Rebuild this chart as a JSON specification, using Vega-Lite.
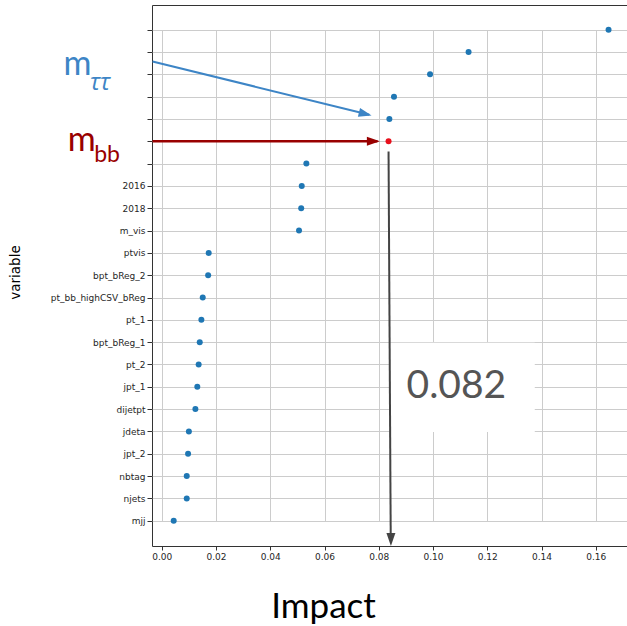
{
  "$schema": "https://vega.github.io/schema/vega-lite/v6.json",
  "width": 475,
  "height": 541,
  "autosize": {"type": "none"},
  "padding": {"left": 152, "top": 5, "right": 0, "bottom": 80},
  "background": "white",
  "config": {
    "view": {"stroke": "#333333", "strokeWidth": 1},
    "font": "DejaVu Sans"
  },
  "datasets": {
    "impacts": [
      {"variable": "hidden_1", "impact": 0.1647},
      {"variable": "hidden_2", "impact": 0.1131},
      {"variable": "hidden_3", "impact": 0.0989},
      {"variable": "hidden_4", "impact": 0.0856},
      {"variable": "hidden_5", "impact": 0.0839},
      {"variable": "hidden_6", "impact": 0.0836},
      {"variable": "hidden_7", "impact": 0.0533},
      {"variable": "2016", "impact": 0.0516},
      {"variable": "2018", "impact": 0.0514},
      {"variable": "m_vis", "impact": 0.0506},
      {"variable": "ptvis", "impact": 0.0173},
      {"variable": "bpt_bReg_2", "impact": 0.0171},
      {"variable": "pt_bb_highCSV_bReg", "impact": 0.0151},
      {"variable": "pt_1", "impact": 0.0146},
      {"variable": "bpt_bReg_1", "impact": 0.0140},
      {"variable": "pt_2", "impact": 0.0136},
      {"variable": "jpt_1", "impact": 0.0131},
      {"variable": "dijetpt", "impact": 0.0124},
      {"variable": "jdeta", "impact": 0.0100},
      {"variable": "jpt_2", "impact": 0.0097},
      {"variable": "nbtag", "impact": 0.0092},
      {"variable": "njets", "impact": 0.0092},
      {"variable": "mjj", "impact": 0.0044}
    ]
  },
  "layer": [
    {
      "data": {"name": "impacts"},
      "mark": {"type": "circle", "size": 36, "opacity": 1},
      "encoding": {
        "x": {
          "field": "impact",
          "type": "quantitative",
          "scale": {"domain": [-0.0036, 0.1715], "nice": false, "zero": false},
          "axis": {
            "values": [0, 0.02, 0.04, 0.06, 0.08, 0.1, 0.12, 0.14, 0.16],
            "format": ".2f",
            "title": "Impact",
            "titleFont": "Lato",
            "titleFontSize": 35,
            "titleFontWeight": "normal",
            "titleColor": "black",
            "titleX": 171,
            "titleY": 71,
            "titleAlign": "center",
            "titleBaseline": "alphabetic",
            "labelFont": "DejaVu Sans",
            "labelFontSize": 9,
            "labelColor": "#262626",
            "labelPadding": 2,
            "tickSize": 4,
            "tickColor": "#333333",
            "domain": false,
            "grid": true,
            "gridColor": "#cccccc",
            "gridWidth": 1
          }
        },
        "y": {
          "field": "variable",
          "type": "nominal",
          "sort": null,
          "scale": {"type": "point", "padding": 0, "range": [24.7, 515.7]},
          "axis": {
            "title": "variable",
            "titleFont": "DejaVu Sans",
            "titleFontSize": 13.5,
            "titleFontWeight": "normal",
            "titleColor": "black",
            "titleX": -137,
            "titleY": 267,
            "titleAngle": -90,
            "titleAlign": "center",
            "titleBaseline": "middle",
            "labelExpr": "indexof(datum.value, 'hidden_') === 0 ? '' : datum.value",
            "labelFont": "DejaVu Sans",
            "labelFontSize": 9,
            "labelColor": "#262626",
            "labelPadding": 2,
            "tickSize": 5,
            "tickColor": "#333333",
            "domain": false,
            "grid": true,
            "gridColor": "#cccccc",
            "gridWidth": 1
          }
        },
        "color": {
          "condition": {"test": "datum.variable === 'hidden_6'", "value": "#e8101c"},
          "value": "#1f77b4"
        }
      }
    },
    {
      "layer": [
        {
          "data": {"values": [{"impact": 0.0841, "impact_end": 0.1375, "row": 14.02, "row_end": 18.01}]},
          "mark": {"type": "rect", "fill": "white"},
          "encoding": {
            "x": {"field": "impact", "type": "quantitative"},
            "x2": {"field": "impact_end"},
            "y": {"field": "row", "type": "quantitative", "axis": null, "scale": {"domain": [-1.107, 23.12], "reverse": true, "nice": false, "zero": false}},
            "y2": {"field": "row_end"}
          }
        },
        {
          "data": {"values": [{"impact": 0.1086, "row": 15.95, "label": "0.082"}]},
          "mark": {"type": "text", "font": "Lato", "fontSize": 39, "color": "#555555", "align": "center", "baseline": "middle"},
          "encoding": {
            "x": {"field": "impact", "type": "quantitative"},
            "y": {"field": "row", "type": "quantitative"},
            "text": {"field": "label"}
          }
        },
        {
          "data": {"values": [{"impact": 0.0836, "row": 5.45}, {"impact": 0.0844, "row": 22.7}]},
          "mark": {"type": "line", "color": "#444444", "strokeWidth": 2},
          "encoding": {
            "x": {"field": "impact", "type": "quantitative"},
            "y": {"field": "row", "type": "quantitative"}
          }
        },
        {
          "data": {"values": [{"impact": -0.0034, "row": 1.42}, {"impact": 0.0765, "row": 3.81}]},
          "mark": {"type": "line", "color": "#3d85c6", "strokeWidth": 2},
          "encoding": {
            "x": {"field": "impact", "type": "quantitative"},
            "y": {"field": "row", "type": "quantitative"}
          }
        },
        {
          "data": {"values": [{"impact": -0.0034, "row": 5.0}, {"impact": 0.0795, "row": 5.0}]},
          "mark": {"type": "line", "color": "#990000", "strokeWidth": 2.5},
          "encoding": {
            "x": {"field": "impact", "type": "quantitative"},
            "y": {"field": "row", "type": "quantitative"}
          }
        },
        {
          "data": {"values": [{"impact": 0.08447, "row": 23.12}]},
          "mark": {"type": "point", "shape": "M0,0L-1.3,-0.45L-1.3,0.45Z", "angle": 90, "filled": true, "color": "#444444", "opacity": 1, "size": 400},
          "encoding": {
            "x": {"field": "impact", "type": "quantitative"},
            "y": {"field": "row", "type": "quantitative"}
          }
        },
        {
          "data": {"values": [{"impact": 0.07735, "row": 3.84}]},
          "mark": {"type": "point", "shape": "M0,0L-1.3,-0.45L-1.3,0.45Z", "angle": 13.8, "filled": true, "color": "#3d85c6", "opacity": 1, "size": 400},
          "encoding": {
            "x": {"field": "impact", "type": "quantitative"},
            "y": {"field": "row", "type": "quantitative"}
          }
        },
        {
          "data": {"values": [{"impact": 0.0804, "row": 5.0}]},
          "mark": {"type": "point", "shape": "M0,0L-1.3,-0.45L-1.3,0.45Z", "angle": 0, "filled": true, "color": "#990000", "opacity": 1, "size": 400},
          "encoding": {
            "x": {"field": "impact", "type": "quantitative"},
            "y": {"field": "row", "type": "quantitative"}
          }
        },
        {
          "data": {"values": [{"impact": -0.0362, "row": 2.02, "label": "m"}, {"impact": -0.0347, "row": 5.41, "label": "m"}]},
          "mark": {"type": "text", "font": "Lato", "fontSize": 34, "align": "left", "baseline": "alphabetic"},
          "encoding": {
            "x": {"field": "impact", "type": "quantitative"},
            "y": {"field": "row", "type": "quantitative"},
            "text": {"field": "label"},
            "color": {"condition": {"test": "datum.row < 4", "value": "#3d85c6"}, "value": "#990000"}
          }
        },
        {
          "data": {"values": [{"impact": -0.0265, "row": 2.69, "label": "ττ"}]},
          "mark": {"type": "text", "font": "Open Sans", "fontSize": 24, "fontStyle": "italic", "align": "left", "baseline": "alphabetic", "color": "#3d85c6"},
          "encoding": {
            "x": {"field": "impact", "type": "quantitative"},
            "y": {"field": "row", "type": "quantitative"},
            "text": {"field": "label"}
          }
        },
        {
          "data": {"values": [{"impact": -0.0249, "row": 5.94, "label": "bb"}]},
          "mark": {"type": "text", "font": "Lato", "fontSize": 23, "align": "left", "baseline": "alphabetic", "color": "#990000"},
          "encoding": {
            "x": {"field": "impact", "type": "quantitative"},
            "y": {"field": "row", "type": "quantitative"},
            "text": {"field": "label"}
          }
        }
      ]
    }
  ],
  "resolve": {"scale": {"y": "independent"}, "axis": {"y": "independent"}}
}
